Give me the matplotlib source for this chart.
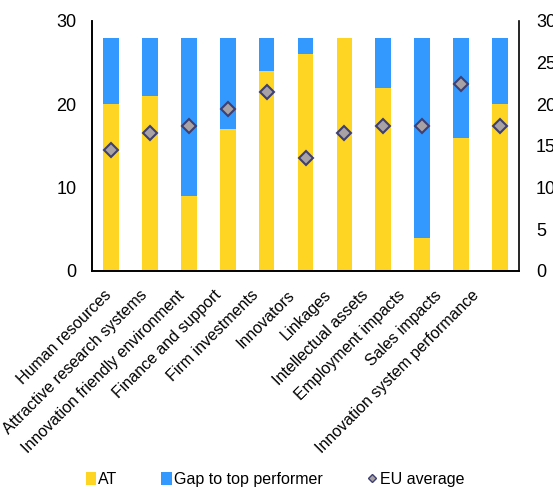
import numpy as np
import matplotlib.pyplot as plt
import matplotlib.transforms as mtransforms
from matplotlib.lines import Line2D
from matplotlib.patches import Patch

plt.rcParams['font.family'] = ['Liberation Sans', 'DejaVu Sans']

categories = ["Human resources", "Attractive research systems",
              "Innovation friendly environment", "Finance and support",
              "Firm investments", "Innovators", "Linkages",
              "Intellectual assets", "Employment impacts", "Sales impacts",
              "Innovation system performance"]
at_rank = [20, 21, 9, 17, 24, 26, 28, 22, 4, 16, 20]
top_rank = 28
eu_average = [14.5, 16.5, 17.4, 19.4, 21.5, 13.5, 16.5, 17.4, 17.4, 22.4, 17.4]

yellow = "#FFD524"
blue = "#3399FF"

gap = [top_rank - v for v in at_rank]
x = np.arange(len(categories))

fig = plt.figure(figsize=(5.53, 4.88), dpi=100)
ax = fig.add_axes([0.166, 0.445, 0.773, 0.512])

ax.bar(x, at_rank, width=0.4, color=yellow)
ax.bar(x, gap, width=0.4, bottom=at_rank, color=blue)
ax.plot(x, eu_average, linestyle="none", marker="D", markersize=7.5,
        markerfacecolor="#A8A2A4", markeredgecolor="#3E3F72",
        markeredgewidth=1.5)

ax.set_xlim(-0.5, len(categories) - 0.5)
ax.set_ylim(0, 30)
ax.set_yticks([0, 10, 20, 30])
ax.set_xticks(x)
ax.set_xticklabels(categories, rotation=45, ha="right",
                   rotation_mode="anchor", fontsize=11.5)
ax.tick_params(axis="y", length=0, labelsize=13, pad=11)
ax.tick_params(axis="x", length=0, pad=12, labelsize=11.5)
# category labels drift slightly left across the axis
for i, lbl in enumerate(ax.get_xticklabels()):
    shift = mtransforms.ScaledTranslation(-(8 + 2.1 * i) / 100, 0,
                                          fig.dpi_scale_trans)
    lbl.set_transform(lbl.get_transform() + shift)
ax.spines["top"].set_visible(False)
ax.spines["right"].set_visible(False)

ax2 = ax.twinx()
ax2.set_ylim(0, 30)
ax2.set_yticks(np.arange(0, 31, 5))
ax2.tick_params(axis="y", length=0, labelsize=13, pad=12)
ax2.spines["top"].set_visible(False)
for a in (ax, ax2):
    for s in a.spines.values():
        s.set_linewidth(1.2)

handles = [
    Patch(facecolor=yellow, label="AT"),
    Patch(facecolor=blue, label="Gap to top performer"),
    Line2D([], [], linestyle="none", marker="D", markersize=4,
           markerfacecolor="#A8A2A4", markeredgecolor="#3E3F72",
           label="EU average"),
]
fig.legend(handles=handles, loc="lower center", bbox_to_anchor=(0.497, -0.028),
           ncol=3, frameon=False, fontsize=11.5, handlelength=0.65,
           handleheight=0.9, handletextpad=0.15, columnspacing=2.75)

fig.savefig("out.png", dpi=100)
